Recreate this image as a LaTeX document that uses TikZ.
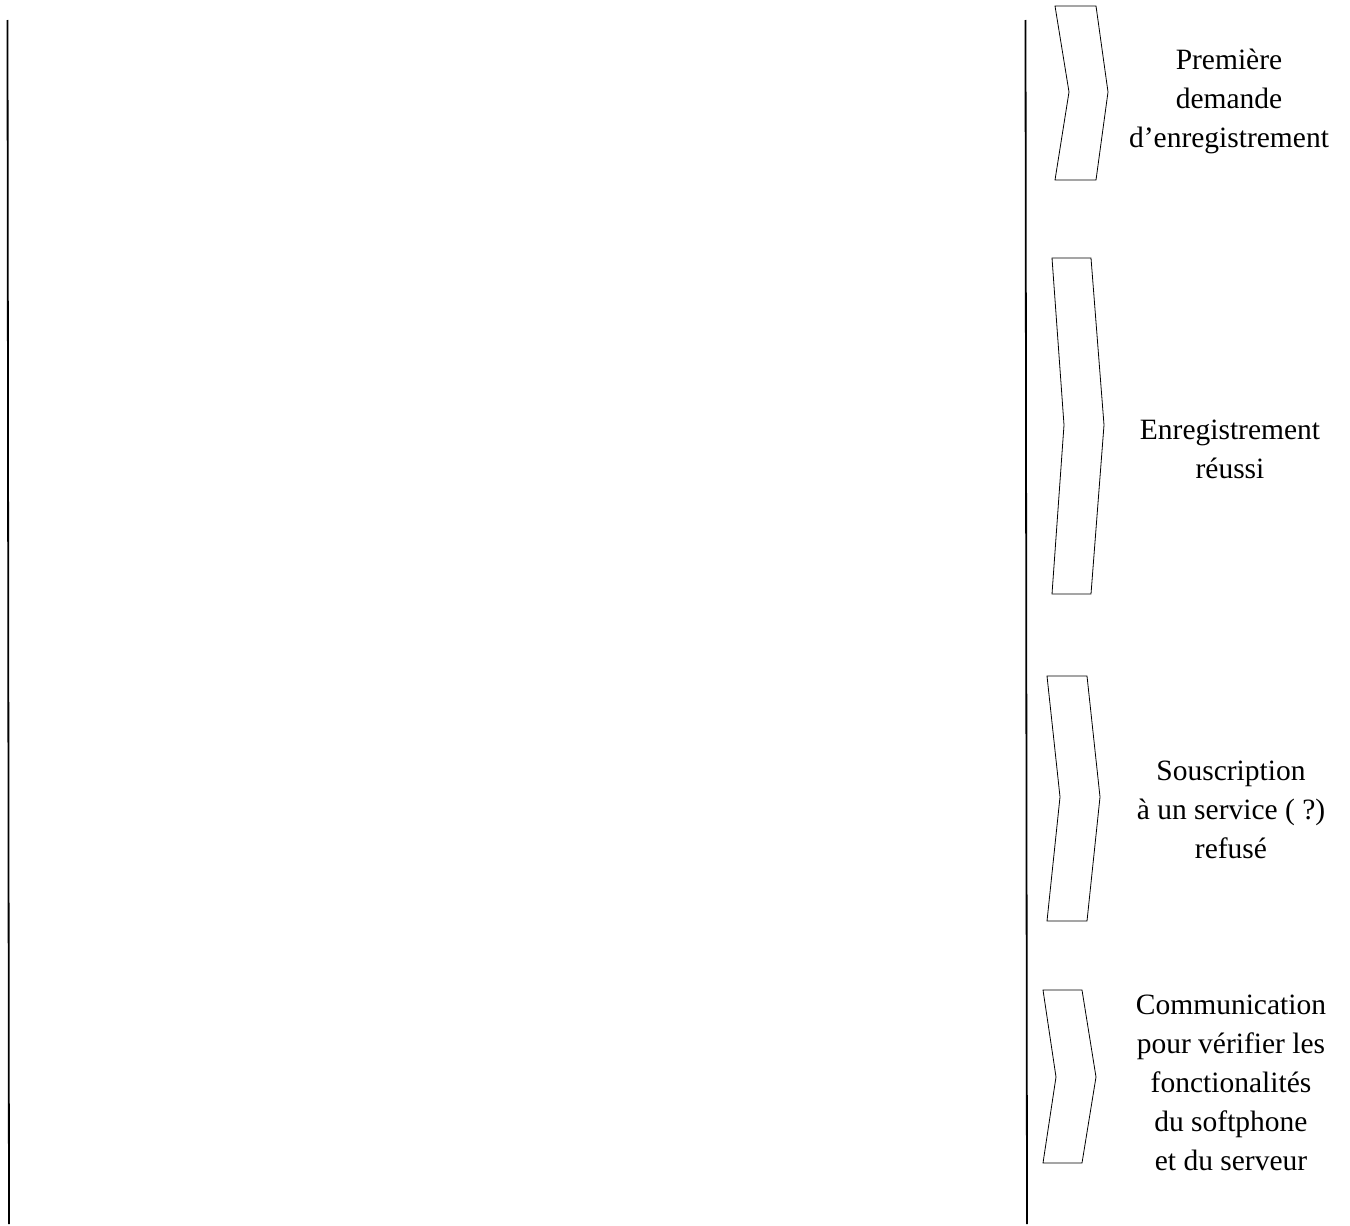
\documentclass[tikz,border=0pt]{standalone}
\usepackage{fontspec}
\setmainfont{Liberation Serif}
\begin{document}
\begin{tikzpicture}[x=1pt,y=-1pt,
  lifeline/.style={line width=1.8pt,black},
  chevron/.style={draw=black,line width=0.8pt,line join=miter},
  label/.style={align=center,inner sep=0pt,font=\fontsize{29.5}{39}\selectfont}]
\useasboundingbox (0,0) rectangle (1350,1226);
% lifelines
\coordinate (LT) at (7.5,20);
\coordinate (LB) at (9,1224);
\coordinate (RT) at (1025.5,20);
\coordinate (RB) at (1027,1224);
\draw[lifeline] (LT) -- (LB);
\draw[lifeline] (RT) -- (RB);
% chevrons
\draw[chevron] (1055,6) -- (1096,6) -- (1108,92) -- (1096,180) -- (1055,180) -- (1069,92) -- cycle;
\draw[chevron] (1052,258) -- (1091,258) -- (1104,425) -- (1091,594) -- (1052,594) -- (1064,425) -- cycle;
\draw[chevron] (1047,676) -- (1087,676) -- (1100,797) -- (1087,921) -- (1047,921) -- (1060,797) -- cycle;
\draw[chevron] (1043,990) -- (1082,990) -- (1096,1077) -- (1082,1163) -- (1043,1163) -- (1056,1077) -- cycle;
% labels
\node[label] (t1) at (1229,101) {Première\\demande\\d’enregistrement};
\node[label] (t2) at (1230,449.5) {Enregistrement\\réussi};
\node[label] (t3) at (1231,809.5) {Souscription\\à un service ( ?)\\refusé};
\node[label] (t4) at (1231,1083) {Communication\\pour vérifier les\\ fonctionalités\\du softphone\\ et du serveur};
\end{tikzpicture}
\end{document}
